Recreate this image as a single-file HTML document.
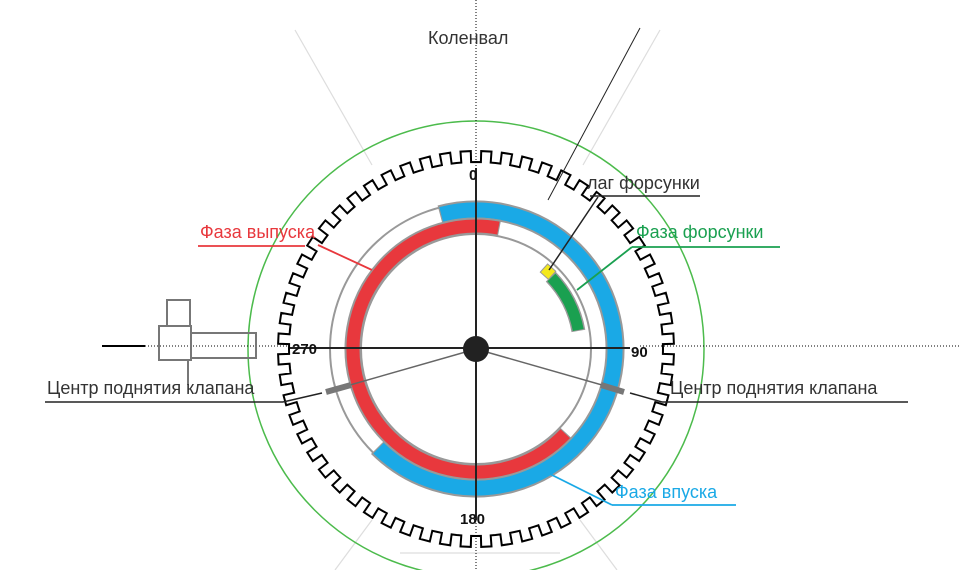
<!DOCTYPE html>
<html><head><meta charset="utf-8"><style>
body{margin:0;background:#fff;width:960px;height:570px;overflow:hidden}
svg{display:block}
text{font-family:"Liberation Sans",sans-serif}
</style></head><body>
<svg id="s" width="960" height="570" viewBox="0 0 960 570">
<g stroke="#ddd" stroke-width="1.2">
<line x1="295" y1="30" x2="372" y2="165"/>
<line x1="660" y1="30" x2="583" y2="165"/>
<line x1="372" y1="520" x2="335" y2="570"/>
<line x1="580" y1="520" x2="617" y2="570"/>
<line x1="400" y1="553" x2="560" y2="553"/>
</g>
<circle cx="476" cy="349" r="228" fill="none" stroke="#4cbb4c" stroke-width="1.5"/>
<path id="gear" fill="none" stroke="#000" stroke-width="2"/>
<g stroke="#000" stroke-width="1" stroke-dasharray="1,2">
<line x1="476" y1="0" x2="476" y2="168"/>
<line x1="476" y1="520" x2="476" y2="570"/>
<line x1="145" y1="346" x2="290" y2="346"/>
<line x1="640" y1="346" x2="960" y2="346"/>
</g>
<line x1="102" y1="346" x2="145" y2="346" stroke="#000" stroke-width="2"/>
<g fill="none" stroke="#777" stroke-width="2">
<rect x="167" y="300" width="23" height="26"/>
<rect x="159" y="326" width="32" height="34"/>
<rect x="191" y="333" width="65" height="25"/>
<line x1="188" y1="360" x2="188" y2="385"/>
</g>
<circle cx="476" cy="349" r="146" fill="none" stroke="#999" stroke-width="2"/>
<circle cx="476" cy="349" r="115" fill="none" stroke="#999" stroke-width="2"/>
<path id="blue" fill="none" stroke="#999" stroke-width="19"/>
<path id="blue2" fill="none" stroke="#1aa9e6" stroke-width="15"/>
<path id="red" fill="none" stroke="#999" stroke-width="17"/>
<path id="red2" fill="none" stroke="#e8383d" stroke-width="13"/>
<path id="green" fill="none" stroke="#999" stroke-width="14"/>
<path id="green2" fill="none" stroke="#1aa050" stroke-width="11"/>
<rect x="543" y="266" width="11" height="11" fill="#f4e81c" stroke="#999" transform="rotate(42 548 271)"/>
<g stroke="#222" stroke-width="2">
<line x1="476" y1="168" x2="476" y2="520"/>
<line x1="290" y1="348" x2="630" y2="348"/>
</g>
<g stroke="#666" stroke-width="1.5">
<line x1="476" y1="349" x2="336" y2="389"/>
<line x1="476" y1="349" x2="616" y2="389"/>
</g>
<g stroke="#777" stroke-width="6">
<line x1="351" y1="385" x2="326" y2="392"/>
<line x1="601" y1="385" x2="624" y2="392"/>
</g>
<g stroke="#222" stroke-width="1.5">
<line x1="322" y1="393" x2="283" y2="402"/>
<line x1="630" y1="393" x2="662" y2="402"/>
<line x1="45" y1="402" x2="283" y2="402"/>
<line x1="662" y1="402" x2="908" y2="402"/>
<line x1="590" y1="196" x2="700" y2="196"/>
<line x1="598" y1="197" x2="549" y2="270"/>
<line x1="640" y1="28" x2="548" y2="200" stroke-width="1"/>
</g>
<circle cx="476" cy="349" r="13" fill="#222"/>
<g stroke-width="1.8">
<line x1="632" y1="247" x2="780" y2="247" stroke="#1aa050"/>
<line x1="632" y1="247" x2="577" y2="290" stroke="#1aa050"/>
<line x1="198" y1="246" x2="305" y2="246" stroke="#e8383d"/>
<line x1="318" y1="245" x2="372" y2="270" stroke="#e8383d"/>
<line x1="612" y1="505" x2="736" y2="505" stroke="#1aa9e6"/>
<line x1="612" y1="505" x2="550" y2="474" stroke="#1aa9e6"/>
</g>
<g font-size="18" fill="#333">
<text x="428" y="44">Коленвал</text>
<text x="587" y="189">лаг форсунки</text>
<text x="47" y="394">Центр поднятия клапана</text>
<text x="670" y="394">Центр поднятия клапана</text>
</g>
<text x="636" y="238" font-size="18" fill="#1aa050">Фаза форсунки</text>
<text x="200" y="238" font-size="18" fill="#e8383d">Фаза выпуска</text>
<text x="615" y="498" font-size="18" fill="#1aa9e6">Фаза впуска</text>
<g font-size="15" font-weight="bold" fill="#111">
<text x="469" y="180">0</text>
<text x="631" y="357">90</text>
<text x="292" y="354">270</text>
<text x="460" y="524">180</text>
</g>
</svg>
<script>
var cx=476,cy=349;
function p(r,a){a=a*Math.PI/180;return [cx+r*Math.sin(a),cy-r*Math.cos(a)];}
function arc(r,a1,a2){var s=p(r,a1),e=p(r,a2);var l=(a2-a1)>180?1:0;return "M"+s[0]+" "+s[1]+" A"+r+" "+r+" 0 "+l+" 1 "+e[0]+" "+e[1];}
var d="",n=60,ro=198,ri=187;
for(var i=0;i<n;i++){var a=i*360/n,w=360/n;
var pts=[[ri,a],[ri,a+w*0.25],[ro,a+w*0.25],[ro,a+w*0.75],[ri,a+w*0.75],[ri,a+w]];
pts.forEach(function(q,j){var c=p(q[0],q[1]);d+=(i==0&&j==0?"M":"L")+c[0].toFixed(1)+" "+c[1].toFixed(1)+" ";});}
document.getElementById("gear").setAttribute("d",d+"Z");
document.getElementById("blue").setAttribute("d",arc(139,-15,225));document.getElementById("blue2").setAttribute("d",arc(139,-14.5,224.5));
document.getElementById("red").setAttribute("d",arc(123,133,371));document.getElementById("red2").setAttribute("d",arc(123,133.5,370.5));
document.getElementById("green").setAttribute("d",arc(104,46,80));document.getElementById("green2").setAttribute("d",arc(104,46.5,79.5));
</script>
</body></html>
